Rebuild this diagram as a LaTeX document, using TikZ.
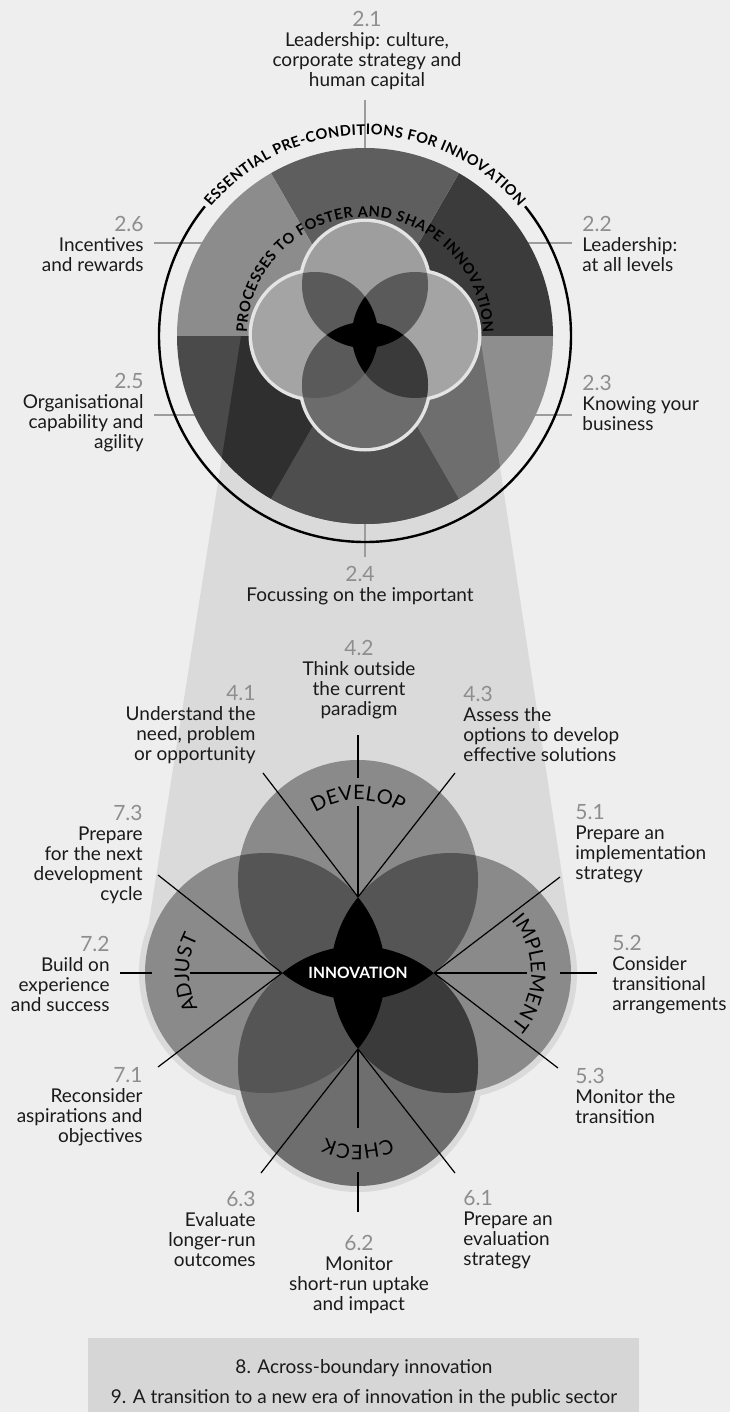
\documentclass[tikz,border=0pt]{standalone}
\usepackage{fontspec}
\setmainfont{Lato}
\usetikzlibrary{positioning,calc,decorations.text}

\definecolor{bg}{HTML}{EEEEEE}
\definecolor{cone}{HTML}{DADADA}
\definecolor{boxgray}{HTML}{D6D6D6}
\definecolor{numgray}{HTML}{8E8E8E}
\definecolor{tickgray}{HTML}{9C9C9C}
\definecolor{ink}{HTML}{1A1A1A}
%% top disk sectors
\definecolor{s21}{HTML}{5E5E5E}
\definecolor{s22}{HTML}{3B3B3B}
\definecolor{s23}{HTML}{8E8E8E}
\definecolor{s24}{HTML}{5A5A5A}
\definecolor{s25}{HTML}{4A4A4A}
\definecolor{s26}{HTML}{8C8C8C}
%% the same sectors under the cone
\definecolor{s23c}{HTML}{6E6E6E}
\definecolor{s24c}{HTML}{4E4E4E}
\definecolor{s25c}{HTML}{2F2F2F}
%% small flower
\definecolor{ipt}{HTML}{9E9E9E}
\definecolor{ips}{HTML}{A4A4A4}
\definecolor{ipb}{HTML}{6C6C6C}
\definecolor{io}{HTML}{5A5A5A}
\definecolor{iobr}{HTML}{3A3A3A}
\definecolor{iline}{HTML}{E4E4E4}
%% big flower
\definecolor{fp}{HTML}{8A8A8A}
\definecolor{fpb}{HTML}{6E6E6E}
\definecolor{fo}{HTML}{555555}
\definecolor{fobr}{HTML}{3A3A3A}

\tikzset{
	lbl/.style={font=\fontsize{9.5}{10}\selectfont, text=ink, inner sep=0pt},
	lblr/.style={lbl, align=right, anchor=north east},
	lbll/.style={lbl, align=left, anchor=north west},
	lblc/.style={lbl, align=center, anchor=north},
	tick/.style={draw=tickgray, line width=0.55pt},
	spoke/.style={draw=black, line width=0.6pt},
	innolabel/.style={font=\fontsize{7.8}{8}\selectfont\bfseries, text=white, inner sep=0pt}
}
\newcommand{\nm}[1]{{\fontsize{10.5}{10}\selectfont\color{numgray}#1}}
\newcommand{\ringfont}{\fontsize{7.3}{8}\selectfont\bfseries}
\newcommand{\petalfont}{\fontsize{10}{11}\selectfont}

\begin{document}
\begin{tikzpicture}[x=0.5pt,y=0.5pt]
	\useasboundingbox (0,0) rectangle (730,-1412);
	\fill[bg] (0,0) rectangle (730,-1412);

	%%Centres
	\coordinate (T) at (365,-336);
	\coordinate (C2) at (365,-335);
	\coordinate (F) at (358,-973);
	\coordinate (PT) at (358,-880);
	\coordinate (PB) at (358,-1066);
	\coordinate (PL) at (265,-973);
	\coordinate (PR) at (451,-973);

	%%Cone between the two pictures
	\coordinate (k1) at (241,-336);
	\coordinate (k2) at (480,-336);
	\coordinate (k3) at (575,-960);
	\coordinate (k4) at (143,-960);
	\fill[cone] (k1) -- (k2) -- (k3) -- (k4) -- cycle;
	\foreach \p in {PT,PB,PL,PR}
		\fill[cone] (\p) circle[radius=126];

	%%Labels of the disk
	\node[lblc] (l21) at (367,-10.5) {\nm{2.1}\\Leadership: culture,\\corporate strategy and\\human capital};
	\node[lbll] (l22) at (582,-215.5) {\nm{2.2}\\Leadership:\\at all levels};
	\node[lbll] (l23) at (582,-375) {\nm{2.3}\\Knowing your\\business};
	\node[lblc] (l24) at (360,-565.5) {\nm{2.4}\\Focussing on the important};
	\node[lblr] (l25) at (144,-373) {\nm{2.5}\\Organisational\\capability and\\agility};
	\node[lblr] (l26) at (144,-215.5) {\nm{2.6}\\Incentives\\and rewards};

	%%Ticks (hidden inside the disk)
	\coordinate (a21) at (365,-100);
	\coordinate (a22) at (572,-243);
	\coordinate (a23) at (572,-415);
	\coordinate (a24) at (365,-557);
	\coordinate (a25) at (154,-415);
	\coordinate (a26) at (154,-243);
	\draw[tick] (a21) -- (T);
	\draw[tick] (a24) -- (T);
	\foreach \a in {a22,a23,a25,a26}
		\draw[tick] (\a) -- (\a -| T);

	%%Disk
	\foreach \a/\c in {0/s22,60/s21,120/s26,180/s25,240/s24,300/s23}
		\fill[\c] (T) -- ++(\a:188) arc[start angle=\a, end angle=\a+60, radius=188] -- cycle;
	\begin{scope}
		\clip (k1) -- (k2) -- (k3) -- (k4) -- cycle;
		\foreach \a/\c in {180/s25c,240/s24c,300/s23c}
			\fill[\c] (T) -- ++(\a:188) arc[start angle=\a, end angle=\a+60, radius=188] -- cycle;
	\end{scope}
	\draw[line width=1.2pt] (T) ++(39:206) arc[start angle=39, end angle=-219, radius=206];
	\path[decorate, decoration={text along path, text align=fit to path,
		text={|\ringfont|ESSENTIAL PRE-CONDITIONS FOR INNOVATION}}]
		(T) ++(140:201) arc[start angle=140, end angle=40, radius=201];

	%%Small flower
	\foreach \a in {0,90,180,270}
		\fill[iline] (C2) ++(\a:50) circle[radius=66.5];
	\fill[ipt] (C2) ++(90:50) circle[radius=63];
	\fill[ips] (C2) ++(0:50) circle[radius=63];
	\fill[ips] (C2) ++(180:50) circle[radius=63];
	\fill[ipb] (C2) ++(270:50) circle[radius=63];
	\begin{scope}
		\clip (C2) ++(90:50) circle[radius=63];
		\fill[io] (C2) ++(0:50) circle[radius=63];
		\fill[io] (C2) ++(180:50) circle[radius=63];
	\end{scope}
	\begin{scope}
		\clip (C2) ++(270:50) circle[radius=63];
		\fill[io] (C2) ++(180:50) circle[radius=63];
		\fill[iobr] (C2) ++(0:50) circle[radius=63];
	\end{scope}
	\begin{scope}
		\clip (C2) ++(0:50) circle[radius=63];
		\fill[black] (C2) ++(180:50) circle[radius=63];
	\end{scope}
	\begin{scope}
		\clip (C2) ++(90:50) circle[radius=63];
		\fill[black] (C2) ++(270:50) circle[radius=63];
	\end{scope}
	\path[decorate, decoration={text along path, text align=fit to path,
		text={|\ringfont|PROCESSES TO FOSTER AND SHAPE INNOVATION}}]
		(C2) ++(179:118) arc[start angle=179, end angle=1, radius=118];

	%%Big flower
	\fill[fp] (PT) circle[radius=120];
	\fill[fp] (PL) circle[radius=120];
	\fill[fp] (PR) circle[radius=120];
	\fill[fpb] (PB) circle[radius=120];
	\begin{scope}
		\clip (PT) circle[radius=120];
		\fill[fo] (PL) circle[radius=120];
		\fill[fo] (PR) circle[radius=120];
	\end{scope}
	\begin{scope}
		\clip (PB) circle[radius=120];
		\fill[fo] (PL) circle[radius=120];
		\fill[fobr] (PR) circle[radius=120];
	\end{scope}
	\begin{scope}
		\clip (PL) circle[radius=120];
		\fill[black] (PR) circle[radius=120];
	\end{scope}
	\begin{scope}
		\clip (PT) circle[radius=120];
		\fill[black] (PB) circle[radius=120];
	\end{scope}

	%%Tips of the star and ends of the spokes
	\coordinate (tT) at (358,-897);
	\coordinate (tB) at (358,-1049);
	\coordinate (tL) at (282,-973);
	\coordinate (tR) at (434,-973);
	\coordinate (e41) at (263,-773);
	\coordinate (e42) at (358,-735);
	\coordinate (g42a) at (358,-806);
	\coordinate (g42b) at (358,-778);
	\coordinate (e43) at (455,-773);
	\coordinate (e51) at (560,-877);
	\coordinate (g52a) at (527,-973);
	\coordinate (g52b) at (560,-973);
	\coordinate (e52) at (597,-973);
	\coordinate (e53) at (558,-1068);
	\coordinate (e61) at (455,-1173);
	\coordinate (g62a) at (358,-1128);
	\coordinate (g62b) at (358,-1172);
	\coordinate (e62) at (358,-1212);
	\coordinate (e63) at (261,-1173);
	\coordinate (e71) at (158,-1067);
	\coordinate (g72a) at (190,-973);
	\coordinate (g72b) at (152,-973);
	\coordinate (e72) at (120,-973);
	\coordinate (e73) at (158,-875);

	%%Spokes
	\draw[spoke] (tT) -- (e41);
	\draw[spoke] (tT) -- (g42a) (g42b) -- (e42);
	\draw[spoke] (tT) -- (e43);
	\draw[spoke] (tR) -- (e51);
	\draw[spoke] (tR) -- (g52a) (g52b) -- (e52);
	\draw[spoke] (tR) -- (e53);
	\draw[spoke] (tB) -- (e61);
	\draw[spoke] (tB) -- (g62a) (g62b) -- (e62);
	\draw[spoke] (tB) -- (e63);
	\draw[spoke] (tL) -- (e71);
	\draw[spoke] (tL) -- (g72a) (g72b) -- (e72);
	\draw[spoke] (tL) -- (e73);

	%%Petal words
	\path[decorate, decoration={text along path, text align=center, text={|\petalfont|DEVELOP}}]
		(PT) ++(150:80) arc[start angle=150, end angle=30, radius=80];
	\path[decorate, decoration={text along path, text align=center, text={|\petalfont|IMPLEMENT}}]
		(PR) ++(60:80) arc[start angle=60, end angle=-60, radius=80];
	\path[decorate, decoration={text along path, text align=center, text={|\petalfont|CHECK}}]
		(PB) ++(-30:79) arc[start angle=-30, end angle=-150, radius=79];
	\path[decorate, decoration={text along path, text align=center, text={|\petalfont|ADJUST}}]
		(PL) ++(240:76) arc[start angle=240, end angle=120, radius=76];
	\node[innolabel] (inno) at (F) {INNOVATION};

	%%Labels of the flower
	\node[lblr] (l41) at (256,-685.5) {\nm{4.1}\\Understand the\\need, problem\\or opportunity};
	\node[lblc] (l42) at (359,-639.5) {\nm{4.2}\\Think outside\\the current\\paradigm};
	\node[lbll] (l43) at (463,-685.5) {\nm{4.3}\\Assess the\\options to develop\\effective solutions};
	\node[lbll] (l51) at (575,-804.5) {\nm{5.1}\\Prepare an\\implementation\\strategy};
	\node[lbll] (l52) at (612,-935) {\nm{5.2}\\Consider\\transitional\\arrangements};
	\node[lbll] (l53) at (575,-1067.5) {\nm{5.3}\\Monitor the\\transition};
	\node[lbll] (l61) at (463,-1190.5) {\nm{6.1}\\Prepare an\\evaluation\\strategy};
	\node[lblc] (l62) at (359,-1234.5) {\nm{6.2}\\Monitor\\short-run uptake\\and impact};
	\node[lblr] (l63) at (256,-1190.5) {\nm{6.3}\\Evaluate\\longer-run\\outcomes};
	\node[lblr] (l71) at (143,-1067.5) {\nm{7.1}\\Reconsider\\aspirations and\\objectives};
	\node[lblr] (l72) at (110,-935.5) {\nm{7.2}\\Build on\\experience\\and success};
	\node[lblr] (l73) at (143,-804.5) {\nm{7.3}\\Prepare\\for the next\\development\\cycle};

	%%Box at the foot
	\fill[boxgray] (88,-1338) rectangle (639,-1412);
	\node[lbl] (b8) at (364,-1368) {8. Across-boundary innovation};
	\node[lbl] (b9) at (364,-1398) {9. A transition to a new era of innovation in the public sector};

\end{tikzpicture}
\end{document}
